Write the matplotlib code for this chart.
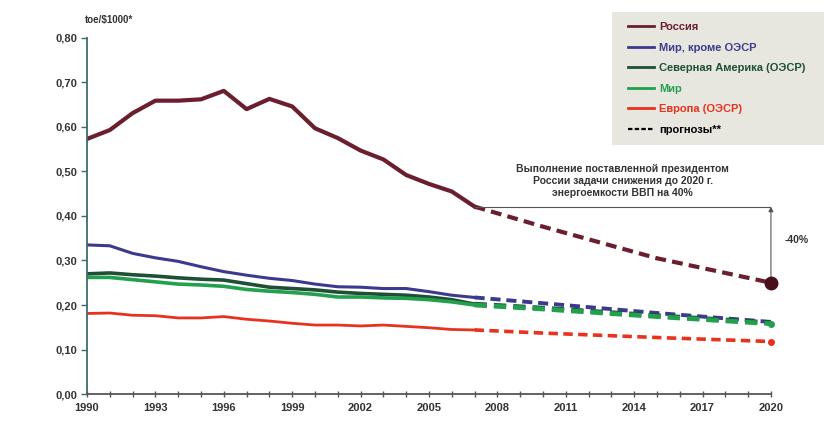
import numpy as np
import matplotlib.pyplot as plt
from matplotlib.patches import Rectangle
from matplotlib.ticker import FuncFormatter, MultipleLocator, FixedLocator

plt.rcParams['font.family'] = ['Liberation Sans', 'DejaVu Sans']
plt.rcParams['font.weight'] = 'bold'

# Historical energy intensity, toe per $1000 of GDP
years = np.arange(1990, 2008)
russia = [0.573, 0.593, 0.631, 0.659, 0.659, 0.662, 0.681, 0.640, 0.663, 0.646,
          0.597, 0.575, 0.547, 0.527, 0.492, 0.472, 0.455, 0.421]
non_oecd = [0.335, 0.333, 0.316, 0.306, 0.298, 0.286, 0.275, 0.267, 0.260, 0.255,
            0.247, 0.241, 0.240, 0.237, 0.237, 0.230, 0.222, 0.217]
north_am = [0.270, 0.272, 0.268, 0.265, 0.261, 0.258, 0.256, 0.248, 0.240, 0.237,
            0.234, 0.229, 0.226, 0.224, 0.222, 0.218, 0.212, 0.202]
world = [0.262, 0.262, 0.257, 0.252, 0.247, 0.245, 0.242, 0.235, 0.231, 0.228,
         0.224, 0.218, 0.218, 0.216, 0.215, 0.212, 0.207, 0.200]
europe = [0.181, 0.182, 0.177, 0.176, 0.171, 0.171, 0.174, 0.168, 0.164, 0.159,
          0.155, 0.155, 0.153, 0.155, 0.152, 0.149, 0.145, 0.144]

# Forecasts to 2020
f_years = [2007, 2010, 2015, 2020]
russia_f = [0.421, 0.376, 0.305, 0.250]
non_oecd_f = [0.217, 0.204, 0.182, 0.162]
north_am_f = [0.202, 0.193, 0.176, 0.160]
world_f = [0.200, 0.191, 0.174, 0.158]
europe_f = [0.144, 0.137, 0.127, 0.118]

x_ticks = list(range(1990, 2021, 3))

labels = ["Россия", "Мир, кроме ОЭСР", "Северная Америка (ОЭСР)", "Мир", "Европа (ОЭСР)"]
colors = ["#6b1e2e", "#3c3a8e", "#1f4f35", "#22a04e", "#e8321e"]
widths = [3.0, 2.2, 2.6, 2.6, 2.0]
f_widths = [3.0, 2.8, 3.4, 3.4, 2.6]

fig = plt.figure(figsize=(8.24, 4.21), dpi=100)
ax = fig.add_axes([0.1056, 0.064, 0.830, 0.846])
ax.patch.set_visible(False)

# legend background
fig.patches.append(Rectangle((0.743, 0.656), 0.27, 0.316, transform=fig.transFigure,
                             facecolor="#e7e7e0", edgecolor="none", zorder=-1))

hist = [russia, non_oecd, north_am, world, europe]
fcst = [russia_f, non_oecd_f, north_am_f, world_f, europe_f]
handles = []
for h, f, c, w, fw, lab in zip(hist, fcst, colors, widths, f_widths, labels):
    ln, = ax.plot(years, h, color=c, lw=w, solid_joinstyle="round", label=lab)
    ax.plot(f_years, f, color=c, lw=fw, ls=(0, (2.6, 1.5)))
    handles.append(ln)

fc_handle, = ax.plot([], [], color="black", lw=1.6, ls=(0, (2, 1)), label="прогнозы**")
handles.append(fc_handle)

# end points of forecasts
ax.plot(2020, russia_f[-1], "o", color="#4a0f1c", ms=9, zorder=5, clip_on=False)
ax.plot(2020, world_f[-1], "o", color=colors[3], ms=4, zorder=5, clip_on=False)
ax.plot(2020, europe_f[-1], "o", color=colors[4], ms=4, zorder=5, clip_on=False)

# 40% reduction target
ax.plot([2007, 2020], [russia[-1], russia[-1]], color="#555555", lw=0.8)
ax.annotate("", xy=(2020, russia_f[-1]), xytext=(2020, russia[-1]),
            arrowprops=dict(arrowstyle="<|-|>", color="#555555", lw=0.8,
                            mutation_scale=7, shrinkA=0, shrinkB=0))
ax.text(2020.6, 0.345, "-40%", fontsize=7.5, color="#333333", va="center", ha="left")
ax.text(2013.5, 0.479, "Выполнение поставленной президентом\nРоссии задачи снижения до 2020 г.\n"
        "энергоемкости ВВП на 40%", fontsize=7.5, color="#333333", ha="center",
        va="center", linespacing=1.25)

ax.set_xlim(1990, 2020)
ax.set_ylim(0, 0.8)
ax.xaxis.set_major_locator(FixedLocator(x_ticks))
ax.xaxis.set_minor_locator(MultipleLocator(1))
ax.yaxis.set_major_locator(MultipleLocator(0.1))
ax.yaxis.set_major_formatter(FuncFormatter(lambda v, p: f"{v:.2f}".replace(".", ",")))

for s in ("top", "right"):
    ax.spines[s].set_visible(False)
ax.spines["left"].set_color("#3f6b6b")
ax.spines["left"].set_linewidth(1.3)
ax.spines["bottom"].set_color("#555555")
ax.spines["bottom"].set_linewidth(1.3)
ax.tick_params(axis="y", labelsize=8, length=4, width=1, color="#3f6b6b", pad=3)
ax.tick_params(axis="x", which="major", labelsize=8, length=5, width=1,
               direction="inout", color="#555555", pad=4)
ax.tick_params(axis="x", which="minor", length=4, width=1, direction="inout", color="#555555")
for t in ax.get_xticklabels() + ax.get_yticklabels():
    t.set_fontweight("bold")
    t.set_color("#333333")

fig.text(85 / 824, 1 - 20 / 421, "toe/\\$1000*", fontsize=7, color="#333333",
         ha="left", va="center")

leg = fig.legend(handles=handles, loc="upper left", bbox_to_anchor=(628 / 824, 1 - 22 / 421),
                 frameon=False, fontsize=8, handlelength=2.3, handletextpad=0.5,
                 labelspacing=0.95, borderaxespad=0, borderpad=0)
for txt, c in zip(leg.get_texts(), colors + ["black"]):
    txt.set_color(c)
    txt.set_fontweight("bold")
for lh in leg.get_lines()[:5]:
    lh.set_linewidth(2)

fig.savefig("out.png", dpi=100)
